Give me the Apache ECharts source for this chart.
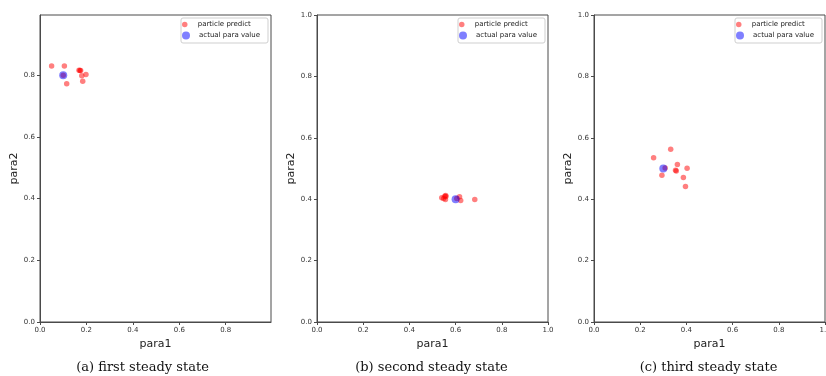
<!DOCTYPE html>
<html>
<head>
<meta charset="utf-8">
<script src="https://cdn.jsdelivr.net/npm/echarts@6/dist/echarts.min.js"></script>
<style>html,body{margin:0;padding:0;background:#fff;}#c{width:826px;height:376px;}</style>
</head>
<body>
<div id="c"></div>
<script>
// ---- data ----
const captions = ['(a) first steady state', '(b) second steady state', '(c) third steady state'];
const seriesNames = ['particle predict', 'actual para value'];
const xAxisMax = [0.995, 1.0, 1.0];
const yAxisMax = [0.995, 1.0, 1.0];
const predict1 = [[0.05,0.83],[0.105,0.83],[0.168,0.816],[0.172,0.815],[0.175,0.815],[0.18,0.798],[0.198,0.802],[0.184,0.78],[0.115,0.772],[0.1,0.8]];
const actual1 = [[0.1,0.8]];
const predict2 = [[0.54,0.405],[0.548,0.402],[0.553,0.41],[0.557,0.412],[0.558,0.409],[0.556,0.399],[0.605,0.402],[0.617,0.408],[0.622,0.396],[0.683,0.399]];
const actual2 = [[0.6,0.4]];
const predict3 = [[0.258,0.535],[0.332,0.563],[0.361,0.513],[0.403,0.501],[0.353,0.494],[0.356,0.492],[0.387,0.471],[0.396,0.441],[0.294,0.478],[0.308,0.502]];
const actual3 = [[0.3,0.5]];
const predicts = [predict1, predict2, predict3];
const actuals = [actual1, actual2, actual3];

// ---- layout ----
const gridLefts = [40, 317, 594];
const gridW = 231, gridTop = 15, gridH = 307;
const font = 'DejaVu Sans';

const chart = echarts.init(document.getElementById('c'), null, {renderer: 'canvas'});
const grids = [], xAxes = [], yAxes = [], series = [], legends = [], graphics = [];
for (let i = 0; i < 3; i++) {
  grids.push({left: gridLefts[i], top: gridTop, width: gridW, height: gridH, show: true,
    borderColor: '#4a4a4a', borderWidth: 1, backgroundColor: '#fff', containLabel: false,
    outerBoundsMode: 'none'});
  const axisCommon = {
    gridIndex: i, type: 'value', min: 0, interval: 0.2,
    axisLine: {show: true, onZero: false, lineStyle: {color: '#4a4a4a', width: 1}},
    axisTick: {show: true, inside: false, length: 3, lineStyle: {color: '#4a4a4a'}},
    splitLine: {show: false},
    axisLabel: {fontFamily: font, fontSize: 7, color: '#333', margin: 5, showMaxLabel: i > 0,
      hideOverlap: false, formatter: v => v.toFixed(1)},
    nameTextStyle: {fontFamily: font, fontSize: 11, color: '#222'}
  };
  xAxes.push(Object.assign({}, axisCommon, {max: xAxisMax[i], name: 'para1', nameLocation: 'middle', nameGap: 16}));
  yAxes.push(Object.assign({}, axisCommon, {max: yAxisMax[i], name: 'para2', nameLocation: 'middle', nameGap: 18}));
  series.push({type: 'scatter', name: seriesNames[0], xAxisIndex: i, yAxisIndex: i, data: predicts[i],
    symbolSize: 5.5, itemStyle: {color: '#ff0000', opacity: 0.5}, silent: true});
  series.push({type: 'scatter', name: seriesNames[1], xAxisIndex: i, yAxisIndex: i, data: actuals[i],
    symbolSize: 8, itemStyle: {color: '#0000ff', opacity: 0.5}, silent: true});
  const right = gridLefts[i] + gridW;
  const iconLeft = right - 89;
  legends.push({data: [{name: seriesNames[0], itemStyle: {opacity: 0.5}}], left: iconLeft, top: 21, itemWidth: 16, itemHeight: 5.5,
    padding: 0, selectedMode: false, textStyle: {fontFamily: font, fontSize: 7, color: '#222'}});
  legends.push({data: [{name: seriesNames[1], itemStyle: {opacity: 0.5}}], left: iconLeft, top: 31.5, itemWidth: 16, itemHeight: 8,
    padding: 0, selectedMode: false, textStyle: {fontFamily: font, fontSize: 7, color: '#222'}});
  graphics.push({type: 'rect', shape: {x: right - 90, y: 18, width: 87, height: 25, r: 2},
    style: {fill: null, stroke: '#cfcfcf', lineWidth: 1}, z: 100});
  graphics.push({type: 'text', x: gridLefts[i] + gridW / 2 - (i === 0 ? 13 : 1), y: 368,
    style: {text: captions[i], fontFamily: 'DejaVu Serif', fontSize: 13, fill: '#111',
      textAlign: 'center', textVerticalAlign: 'middle'}});
}
chart.setOption({
  animation: false,
  grid: grids, xAxis: xAxes, yAxis: yAxes, series: series, legend: legends, graphic: graphics
});
</script>
</body>
</html>
